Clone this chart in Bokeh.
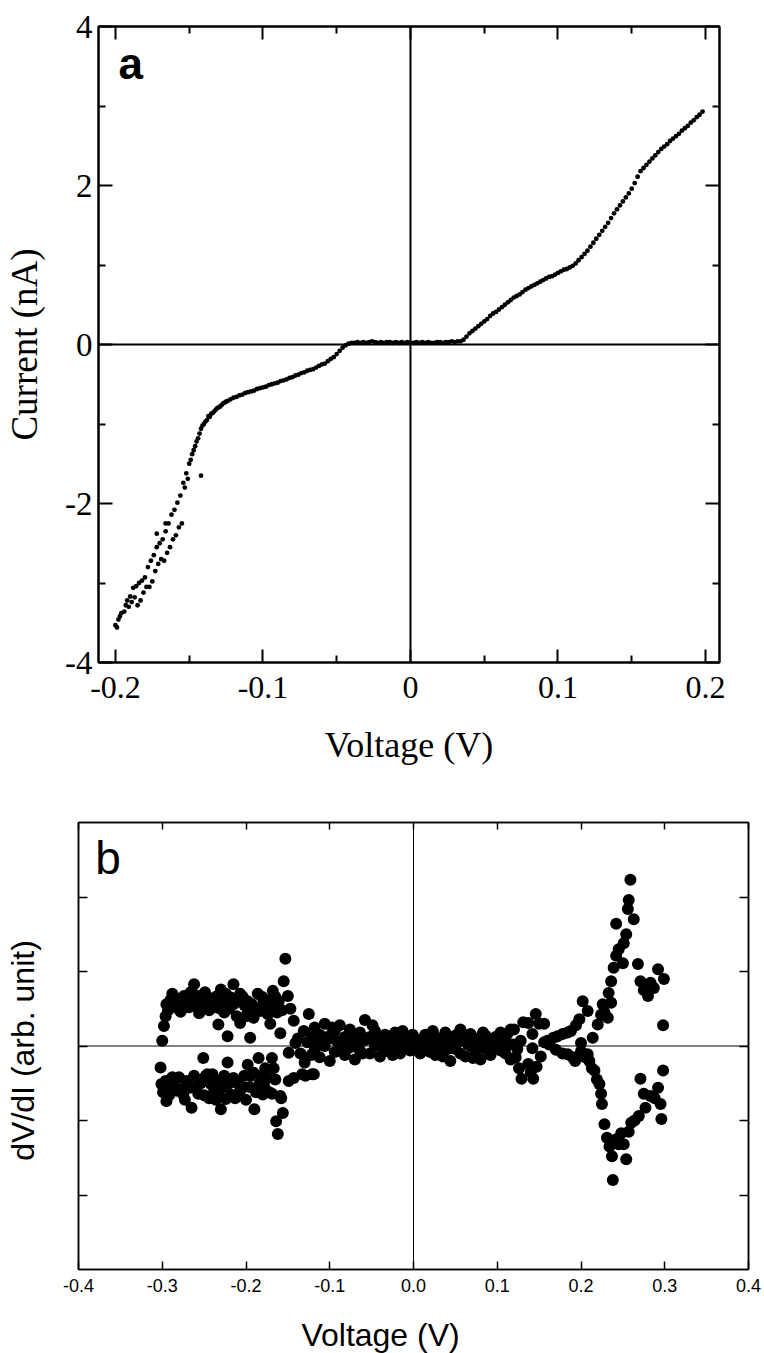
from bokeh.plotting import figure
from bokeh.models import Range1d, LinearAxis, FixedTicker, Span, Label
from bokeh.embed import file_html
from bokeh.resources import INLINE

# ---------------- Panel a: I-V curve (Voltage V, Current nA) ----------------
a_main = [
    (-0.200, -3.53), (-0.198, -3.46), (-0.196, -3.38), (-0.194, -3.36), (-0.192, -3.22),
    (-0.190, -3.17), (-0.188, -3.06), (-0.186, -3.04), (-0.184, -3.00), (-0.182, -2.97),
    (-0.180, -2.93), (-0.178, -2.80), (-0.176, -2.72), (-0.174, -2.65), (-0.172, -2.55),
    (-0.170, -2.50), (-0.168, -2.45), (-0.166, -2.35), (-0.164, -2.25), (-0.162, -2.14),
    (-0.160, -2.08), (-0.158, -1.99), (-0.156, -1.90), (-0.154, -1.74), (-0.152, -1.62),
    (-0.150, -1.50), (-0.148, -1.38), (-0.146, -1.28), (-0.144, -1.18), (-0.142, -1.06),
    (-0.140, -1.00), (-0.138, -0.95), (-0.136, -0.91), (-0.134, -0.86), (-0.132, -0.82),
    (-0.130, -0.79), (-0.128, -0.76), (-0.126, -0.73), (-0.124, -0.71), (-0.122, -0.69),
    (-0.120, -0.67), (-0.118, -0.66), (-0.116, -0.64), (-0.114, -0.63), (-0.112, -0.61),
    (-0.110, -0.60), (-0.108, -0.59), (-0.106, -0.58), (-0.104, -0.56), (-0.102, -0.55),
    (-0.100, -0.54), (-0.098, -0.53), (-0.096, -0.51), (-0.094, -0.50), (-0.092, -0.49),
    (-0.090, -0.48), (-0.088, -0.46), (-0.086, -0.45), (-0.084, -0.44), (-0.082, -0.42),
    (-0.080, -0.41), (-0.078, -0.39), (-0.076, -0.38), (-0.074, -0.36), (-0.072, -0.35),
    (-0.070, -0.33), (-0.068, -0.32), (-0.066, -0.31), (-0.064, -0.29), (-0.062, -0.27),
    (-0.060, -0.25), (-0.058, -0.24), (-0.056, -0.21), (-0.054, -0.18), (-0.052, -0.16),
    (-0.050, -0.12), (-0.048, -0.08), (-0.046, -0.04), (-0.044, -0.01), (-0.042, 0.01),
    (-0.040, 0.02), (-0.038, 0.02), (-0.036, 0.03), (-0.034, 0.02), (-0.032, 0.03),
    (-0.030, 0.02), (-0.028, 0.03), (-0.026, 0.04), (-0.024, 0.03), (-0.022, 0.02),
    (-0.020, 0.03), (-0.018, 0.02), (-0.016, 0.03), (-0.014, 0.03), (-0.012, 0.02),
    (-0.010, 0.03), (-0.008, 0.02), (-0.006, 0.03), (-0.004, 0.02), (-0.002, 0.03),
    (0.000, 0.02), (0.002, 0.02), (0.004, 0.03), (0.006, 0.02), (0.008, 0.03),
    (0.010, 0.02), (0.012, 0.03), (0.014, 0.02), (0.016, 0.02), (0.018, 0.03),
    (0.020, 0.03), (0.022, 0.02), (0.024, 0.03), (0.026, 0.03), (0.028, 0.04),
    (0.030, 0.03), (0.032, 0.04), (0.034, 0.04), (0.036, 0.06), (0.038, 0.10),
    (0.040, 0.14), (0.042, 0.17), (0.044, 0.20), (0.046, 0.23), (0.048, 0.26),
    (0.050, 0.29), (0.052, 0.32), (0.054, 0.36), (0.056, 0.39), (0.058, 0.41),
    (0.060, 0.44), (0.062, 0.47), (0.064, 0.50), (0.066, 0.53), (0.068, 0.56),
    (0.070, 0.59), (0.072, 0.61), (0.074, 0.63), (0.076, 0.66), (0.078, 0.69),
    (0.080, 0.71), (0.082, 0.73), (0.084, 0.75), (0.086, 0.77), (0.088, 0.79),
    (0.090, 0.81), (0.092, 0.83), (0.094, 0.85), (0.096, 0.86), (0.098, 0.88),
    (0.100, 0.90), (0.102, 0.92), (0.104, 0.94), (0.106, 0.95), (0.108, 0.97),
    (0.110, 0.99), (0.112, 1.02), (0.114, 1.06), (0.116, 1.10), (0.118, 1.14),
    (0.120, 1.18), (0.122, 1.23), (0.124, 1.28), (0.126, 1.33), (0.128, 1.38),
    (0.130, 1.43), (0.132, 1.48), (0.134, 1.53), (0.136, 1.59), (0.138, 1.65),
    (0.140, 1.70), (0.142, 1.75), (0.144, 1.80), (0.146, 1.85), (0.148, 1.90),
    (0.150, 1.96), (0.152, 2.03), (0.154, 2.11), (0.156, 2.18), (0.158, 2.22),
    (0.160, 2.26), (0.162, 2.30), (0.164, 2.34), (0.166, 2.38), (0.168, 2.42),
    (0.170, 2.46), (0.172, 2.49), (0.174, 2.52), (0.176, 2.56), (0.178, 2.59),
    (0.180, 2.62), (0.182, 2.65), (0.184, 2.69), (0.186, 2.72), (0.188, 2.75),
    (0.190, 2.79), (0.192, 2.82), (0.194, 2.86), (0.196, 2.89), (0.198, 2.93),
]
a_scatter = [
    (-0.199, -3.56), (-0.197, -3.42), (-0.193, -3.28), (-0.191, -3.30), (-0.189, -3.24),
    (-0.187, -3.18), (-0.185, -3.28), (-0.183, -3.22), (-0.181, -3.12), (-0.179, -3.05),
    (-0.177, -3.05), (-0.175, -2.98), (-0.173, -2.85), (-0.172, -2.38), (-0.171, -2.76),
    (-0.169, -2.70), (-0.167, -2.72), (-0.166, -2.25), (-0.165, -2.62), (-0.163, -2.55),
    (-0.161, -2.45), (-0.159, -2.40), (-0.157, -2.30), (-0.155, -2.25), (-0.153, -1.80),
    (-0.151, -1.69), (-0.149, -1.45), (-0.147, -1.33), (-0.145, -1.22), (-0.143, -1.12),
    (-0.142, -1.65), (-0.141, -1.02), (-0.139, -0.97), (-0.137, -0.90), (-0.135, -0.87),
    (-0.133, -0.84), (-0.131, -0.80), (-0.129, -0.78), (-0.127, -0.74), (-0.125, -0.72),
]
a_volt = [v for v, _ in a_main] + [v for v, _ in a_scatter]
a_curr = [c for _, c in a_main] + [c for _, c in a_scatter]

a_xticks = [-0.2, -0.1, 0, 0.1, 0.2]
a_xlabels = ["-0.2", "-0.1", "0", "0.1", "0.2"]
a_xminor = [-0.15, -0.05, 0.05, 0.15]
a_yticks = [-4, -2, 0, 2, 4]
a_ylabels = ["-4", "-2", "0", "2", "4"]
a_yminor = [-3, -1, 1, 3]

# ---------------- Panel b: dV/dI (arb. unit) ----------------
b_left_upper = [
    (-0.300, 0.07), (-0.298, 0.27), (-0.296, 0.40), (-0.295, 0.56), (-0.290, 0.62),
    (-0.286, 0.58), (-0.281, 0.50), (-0.276, 0.56), (-0.274, 0.67), (-0.270, 0.60),
    (-0.266, 0.72), (-0.262, 0.83), (-0.264, 0.60), (-0.258, 0.52), (-0.254, 0.60),
    (-0.251, 0.56), (-0.246, 0.65), (-0.242, 0.58), (-0.239, 0.60), (-0.233, 0.51),
    (-0.230, 0.76), (-0.233, 0.29), (-0.226, 0.45), (-0.222, 0.13), (-0.218, 0.65),
    (-0.215, 0.83), (-0.215, 0.56), (-0.211, 0.40), (-0.207, 0.70), (-0.207, 0.31),
    (-0.202, 0.55), (-0.198, 0.47), (-0.195, 0.11), (-0.198, 0.60), (-0.191, 0.38),
    (-0.186, 0.70), (-0.183, 0.47), (-0.179, 0.58), (-0.174, 0.43), (-0.171, 0.30),
    (-0.168, 0.74), (-0.167, 0.56), (-0.163, 0.45), (-0.161, 0.60), (-0.159, 0.17),
    (-0.155, 0.87), (-0.153, 1.17), (-0.150, 0.67), (-0.147, 0.50), (-0.143, 0.34),
    (-0.293, 0.48), (-0.288, 0.70), (-0.283, 0.64), (-0.278, 0.46), (-0.268, 0.52),
    (-0.260, 0.68), (-0.256, 0.44), (-0.249, 0.72), (-0.244, 0.48), (-0.236, 0.66),
    (-0.228, 0.60), (-0.224, 0.70), (-0.220, 0.50), (-0.212, 0.62), (-0.204, 0.66),
    (-0.200, 0.40), (-0.193, 0.56), (-0.188, 0.50), (-0.181, 0.66), (-0.176, 0.62),
    (-0.172, 0.52), (-0.165, 0.66), (-0.157, 0.48),
]
b_left_lower = [
    (-0.302, -0.29), (-0.301, -0.51), (-0.296, -0.47), (-0.295, -0.74), (-0.290, -0.55),
    (-0.286, -0.51), (-0.283, -0.60), (-0.280, -0.42), (-0.275, -0.65), (-0.271, -0.47),
    (-0.270, -0.50), (-0.265, -0.83), (-0.260, -0.55), (-0.257, -0.64), (-0.251, -0.16),
    (-0.248, -0.40), (-0.246, -0.38), (-0.244, -0.70), (-0.242, -0.51), (-0.238, -0.60),
    (-0.234, -0.47), (-0.230, -0.85), (-0.228, -0.55), (-0.224, -0.71), (-0.222, -0.22),
    (-0.218, -0.65), (-0.215, -0.43), (-0.210, -0.50), (-0.207, -0.60), (-0.202, -0.40),
    (-0.198, -0.25), (-0.196, -0.55), (-0.191, -0.36), (-0.190, -0.85), (-0.185, -0.16),
    (-0.184, -0.51), (-0.180, -0.65), (-0.177, -0.30), (-0.174, -0.43), (-0.169, -0.16),
    (-0.169, -0.64), (-0.165, -0.45), (-0.164, -1.01), (-0.162, -1.18), (-0.159, -0.67),
    (-0.158, -0.70), (-0.156, -0.90), (-0.149, -0.47), (-0.143, -0.43),
    (-0.299, -0.62), (-0.292, -0.66), (-0.288, -0.42), (-0.278, -0.58), (-0.273, -0.72),
    (-0.267, -0.56), (-0.262, -0.40), (-0.254, -0.50), (-0.250, -0.66), (-0.240, -0.38),
    (-0.236, -0.72), (-0.232, -0.60), (-0.226, -0.40), (-0.220, -0.50), (-0.213, -0.70),
    (-0.204, -0.55), (-0.200, -0.72), (-0.194, -0.40), (-0.188, -0.62), (-0.182, -0.40),
    (-0.178, -0.55), (-0.172, -0.62), (-0.167, -0.30),
]
b_transition = [
    (-0.149, -0.09), (-0.141, 0.04), (-0.138, 0.10), (-0.135, -0.10), (-0.133, -0.38),
    (-0.131, 0.20), (-0.130, -0.22), (-0.129, -0.40), (-0.127, 0.05), (-0.125, 0.43),
    (-0.122, -0.12), (-0.121, -0.38), (-0.119, -0.38),
]
b_middle = [
    (-0.118, 0.25), (-0.118, -0.05), (-0.112, 0.15), (-0.112, -0.15), (-0.106, 0.30),
    (-0.106, 0.00), (-0.100, 0.10), (-0.100, -0.20), (-0.094, 0.20), (-0.094, -0.08),
    (-0.088, 0.28), (-0.088, 0.02), (-0.082, 0.12), (-0.082, -0.12), (-0.076, 0.22),
    (-0.076, -0.02), (-0.070, 0.05), (-0.070, -0.18), (-0.064, 0.18), (-0.064, -0.06),
    (-0.058, 0.35), (-0.058, 0.08), (-0.052, 0.12), (-0.052, -0.10), (-0.046, 0.20),
    (-0.046, 0.00), (-0.040, 0.08), (-0.040, -0.14), (-0.034, 0.15), (-0.034, -0.05),
    (-0.028, 0.10), (-0.028, -0.08), (-0.022, 0.18), (-0.022, 0.02), (-0.016, 0.05),
    (-0.016, -0.10), (-0.010, 0.12), (-0.010, -0.04), (-0.004, 0.08), (-0.004, -0.06),
    (0.002, 0.10), (0.002, -0.05), (0.008, 0.04), (0.008, -0.10), (0.014, 0.15),
    (0.014, -0.02), (0.020, 0.08), (0.020, -0.08), (0.026, 0.12), (0.026, -0.12),
    (0.032, 0.05), (0.032, -0.06), (0.038, 0.18), (0.038, -0.02), (0.044, 0.10),
    (0.044, -0.20), (0.050, 0.14), (0.050, -0.04), (0.056, 0.22), (0.056, -0.10),
    (0.062, 0.08), (0.062, -0.14), (0.068, 0.16), (0.068, 0.00), (0.074, 0.10),
    (0.074, -0.10), (0.080, 0.06), (0.080, -0.18), (0.086, 0.14), (0.086, -0.04),
    (0.092, 0.08), (0.092, -0.12), (0.098, 0.12), (0.098, -0.02), (0.104, 0.18),
    (0.104, -0.06), (0.110, 0.14), (0.110, -0.10), (0.116, 0.22), (0.116, -0.18),
    (-0.115, 0.08), (-0.103, 0.12), (-0.091, 0.06), (-0.079, 0.10), (-0.067, 0.04),
    (-0.055, 0.10), (-0.043, 0.05), (-0.031, 0.02), (-0.019, 0.06), (-0.007, 0.02),
    (0.005, 0.03), (0.017, 0.00), (0.029, 0.03), (0.041, -0.04), (0.053, 0.05),
    (0.065, 0.02), (0.077, -0.03), (0.089, 0.03), (0.101, 0.05), (0.113, 0.02),
    (-0.121, 0.15), (-0.109, 0.05), (-0.097, 0.25), (-0.085, -0.05), (-0.073, 0.15),
    (-0.061, -0.10), (-0.049, 0.28), (-0.037, 0.00), (-0.025, -0.12), (-0.013, 0.20),
    (-0.001, 0.15), (0.011, -0.06), (0.023, 0.20), (0.035, -0.14), (0.047, 0.06),
    (0.059, 0.12), (0.071, -0.16), (0.083, 0.18), (0.095, 0.00), (0.107, 0.08),
    (0.119, 0.02),
]
b_right_upper = [
    (0.112, 0.16), (0.120, 0.22), (0.128, 0.07), (0.131, 0.32), (0.137, 0.31),
    (0.142, 0.16), (0.146, 0.43), (0.150, 0.30), (0.156, 0.30), (0.160, 0.07),
    (0.167, 0.11), (0.172, 0.13), (0.178, 0.16), (0.184, 0.18), (0.188, 0.20),
    (0.194, 0.28), (0.198, 0.36), (0.200, 0.04), (0.202, 0.60), (0.208, 0.47),
    (0.214, 0.11), (0.220, 0.29), (0.224, 0.42), (0.226, 0.56), (0.228, 0.45),
    (0.232, 0.38), (0.233, 0.71), (0.236, 0.58), (0.236, 0.87), (0.239, 1.05),
    (0.242, 1.21), (0.245, 1.30), (0.242, 1.64), (0.250, 1.11), (0.251, 1.38),
    (0.254, 1.50), (0.256, 1.84), (0.257, 1.96), (0.259, 2.23), (0.263, 1.70),
    (0.268, 1.10), (0.271, 0.87), (0.275, 0.75), (0.280, 0.67), (0.283, 0.85),
    (0.287, 0.78), (0.292, 1.03), (0.299, 0.90), (0.298, 0.28),
]
b_right_lower = [
    (0.122, -0.15), (0.124, -0.04), (0.126, -0.30), (0.129, -0.44), (0.137, -0.24),
    (0.140, -0.35), (0.142, -0.03), (0.143, -0.44), (0.147, -0.28), (0.152, -0.14),
    (0.156, 0.05), (0.162, 0.02), (0.170, -0.05), (0.178, -0.10), (0.184, -0.11),
    (0.190, -0.15), (0.193, -0.20), (0.200, -0.07), (0.205, -0.15), (0.208, -0.11),
    (0.210, -0.20), (0.213, -0.30), (0.216, -0.33), (0.219, -0.45), (0.222, -0.51),
    (0.224, -0.64), (0.225, -0.78), (0.228, -1.05), (0.231, -1.23), (0.234, -1.35),
    (0.237, -1.48), (0.238, -1.80), (0.242, -1.25), (0.245, -1.32), (0.248, -1.17),
    (0.251, -1.32), (0.254, -1.52), (0.257, -1.15), (0.260, -1.03), (0.264, -1.00),
    (0.269, -0.94), (0.271, -0.44), (0.275, -0.64), (0.277, -0.83), (0.283, -0.67),
    (0.288, -0.70), (0.292, -0.56), (0.295, -0.78), (0.296, -0.98), (0.298, -0.33),
]
b_all = b_left_upper + b_left_lower + b_transition + b_middle + b_right_upper + b_right_lower
b_volt = [v for v, _ in b_all]
b_dvdi = [u for _, u in b_all]

b_xticks = [-0.4, -0.3, -0.2, -0.1, 0, 0.1, 0.2, 0.3, 0.4]
b_xlabels = ["-0.4", "-0.3", "-0.2", "-0.1", "0.0", "0.1", "0.2", "0.3", "0.4"]
b_yticks = [-2, -1, 0, 1, 2]

SERIF = "Liberation Serif"
SANS = "Liberation Sans"


def style_axis(ax, major_in, minor_in, width, font, size):
    ax.major_tick_in = major_in
    ax.major_tick_out = 0
    ax.minor_tick_in = minor_in
    ax.minor_tick_out = 0
    ax.major_tick_line_width = width
    ax.minor_tick_line_width = width
    ax.major_tick_line_color = "black"
    ax.minor_tick_line_color = "black"
    ax.axis_line_color = "black"
    ax.axis_line_width = width
    ax.major_label_text_font = font
    ax.major_label_text_font_size = size
    ax.major_label_text_color = "black"
    ax.axis_label_text_font = font
    ax.axis_label_text_font_style = "normal"
    ax.axis_label_text_color = "black"


def hidden_axis(ticker, ticks, major_in, minor_in, width):
    ax = LinearAxis(ticker=ticker)
    style_axis(ax, major_in, minor_in, width, SANS, "10px")
    ax.major_label_overrides = {t: "" for t in ticks}
    ax.major_label_standoff = 0
    return ax


# ---------------- figure a ----------------
pa = figure(width=764, height=790, x_range=Range1d(-0.2115, 0.2095), y_range=Range1d(-4, 4),
            output_backend="svg", toolbar_location=None,
            min_border_left=98, min_border_right=45, min_border_top=26, min_border_bottom=128)
pa.grid.visible = False
pa.outline_line_color = "black"
pa.outline_line_width = 2
pa.background_fill_color = "white"
pa.border_fill_color = "white"

xt_a = FixedTicker(ticks=a_xticks, minor_ticks=a_xminor)
yt_a = FixedTicker(ticks=a_yticks, minor_ticks=a_yminor)

xa = pa.xaxis[0]
xa.ticker = xt_a
style_axis(xa, 13, 7, 2, SERIF, "32px")
xa.major_label_overrides = dict(zip(a_xticks, a_xlabels))
xa.major_label_standoff = 14
xa.axis_label = "Voltage (V)"
xa.axis_label_text_font_size = "36px"
xa.axis_label_standoff = 24

ya = pa.yaxis[0]
ya.ticker = yt_a
style_axis(ya, 14, 7, 2, SERIF, "33px")
ya.major_label_overrides = dict(zip(a_yticks, a_ylabels))
ya.major_label_standoff = 6
ya.axis_label = "Current (nA)"
ya.axis_label_text_font_size = "37px"
ya.axis_label_standoff = 17

pa.add_layout(hidden_axis(xt_a, a_xticks, 13, 7, 2), "above")
pa.add_layout(hidden_axis(yt_a, a_yticks, 14, 7, 2), "right")

pa.add_layout(Span(location=0, dimension="height", line_color="black", line_width=2))
pa.add_layout(Span(location=0, dimension="width", line_color="black", line_width=2))
pa.scatter(a_volt, a_curr, size=4.8, color="black", line_color=None)
pa.add_layout(Label(x=-0.198, y=3.54, text="a", text_font=SANS, text_font_size="44px",
                    text_font_style="bold", text_baseline="middle", text_color="black"))

# ---------------- figure b ----------------
pb = figure(width=764, height=520, x_range=Range1d(-0.4, 0.4), y_range=Range1d(-3, 3),
            output_backend="svg", toolbar_location=None,
            min_border_left=78, min_border_right=16, min_border_top=32, min_border_bottom=41)
pb.grid.visible = False
pb.outline_line_color = "black"
pb.outline_line_width = 1.5
pb.background_fill_color = "white"
pb.border_fill_color = "white"

xt_b = FixedTicker(ticks=b_xticks, minor_ticks=[])
yt_b = FixedTicker(ticks=b_yticks, minor_ticks=[])

xb = pb.xaxis[0]
xb.ticker = xt_b
style_axis(xb, 8, 0, 1.5, SANS, "18px")
xb.major_label_overrides = dict(zip(b_xticks, b_xlabels))
xb.major_label_standoff = 9

yb = pb.yaxis[0]
yb.ticker = yt_b
style_axis(yb, 9, 0, 1.5, SANS, "10px")
yb.major_label_overrides = {t: "" for t in b_yticks}
yb.major_label_standoff = 0
yb.axis_label = "dV/dI  (arb. unit)"
yb.axis_label_text_font_size = "32px"
yb.axis_label_standoff = 38

pb.add_layout(hidden_axis(xt_b, b_xticks, 7, 0, 1.5), "above")
pb.add_layout(hidden_axis(yt_b, b_yticks, 9, 0, 1.5), "right")

pb.add_layout(Span(location=0, dimension="height", line_color="black", line_width=1))
pb.add_layout(Span(location=0, dimension="width", line_color="black", line_width=1))
pb.scatter(b_volt, b_dvdi, size=12, color="black", line_color=None)
pb.add_layout(Label(x=-0.380, y=2.52, text="b", text_font=SANS, text_font_size="46px",
                    text_baseline="middle", text_color="black"))

# ---------------- strip under panel b carrying its x-axis title ----------------
pc = figure(width=764, height=43, x_range=Range1d(0, 764), y_range=Range1d(0, 43),
            output_backend="svg", toolbar_location=None,
            x_axis_location=None, y_axis_location=None, min_border=0)
pc.grid.visible = False
pc.outline_line_color = None
pc.background_fill_color = "white"
pc.border_fill_color = "white"
pc.add_layout(Label(x=384.5, y=19, text="Voltage  (V)", text_font=SANS, text_font_size="32px",
                    text_align="center", text_baseline="middle", text_color="black"))

open("out.html", "w").write(file_html([pa, pb, pc], INLINE))
